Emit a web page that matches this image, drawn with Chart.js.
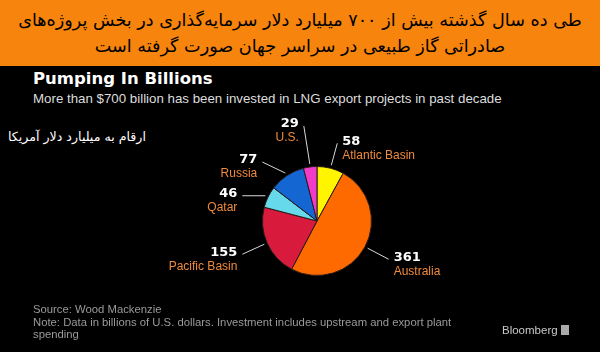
<!DOCTYPE html>
<html lang="fa">
<head>
<meta charset="UTF-8" />
<title>Pumping In Billions</title>
<script src="https://cdn.jsdelivr.net/npm/chart.js@4.4.1/dist/chart.umd.min.js"></script>
<style>
  html, body { margin: 0; padding: 0; background: #000; }
  #page { position: relative; width: 600px; height: 352px; overflow: hidden; background: #000; }
  #banner {
    position: absolute; left: 0; top: 0; width: 600px; height: 66px;
    background: #f6840d; color: #000; text-align: center;
    font-family: "DejaVu Sans", sans-serif; font-size: 17.6px; line-height: 26px;
    direction: rtl; padding-top: 7px; box-sizing: border-box; white-space: nowrap;
  }
  #title { position: absolute; left: 33px; top: 69px; color: #fff; font: bold 16.5px "DejaVu Sans", sans-serif; }
  #subtitle { position: absolute; left: 33px; top: 91px; color: #ddd; font: 13.3px "Liberation Sans", sans-serif; }
  #unit { position: absolute; left: 8px; top: 129px; color: #fff; font: 12.6px "DejaVu Sans", sans-serif; direction: rtl; }
  #foot { position: absolute; left: 33px; top: 303px; color: #9a9a9a; font: 11.3px "Liberation Sans", sans-serif; line-height: 12.5px; width: 440px; }
  #brand { position: absolute; left: 502px; top: 324px; color: #c8c8c8; font: 11.5px "Liberation Sans", sans-serif; }
  #brand i { display: inline-block; width: 8px; height: 10px; background: #aaa; margin-left: 3px; vertical-align: -1px; }
  canvas { position: absolute; left: 0; top: 0; }
</style>
</head>
<body>
<div id="page">
  <div id="banner">طی ده سال گذشته بیش از ۷۰۰ میلیارد دلار سرمایه‌گذاری در بخش پروژه‌های<br>صادراتی گاز طبیعی در سراسر جهان صورت گرفته است</div>
  <div id="title">Pumping In Billions</div>
  <div id="subtitle">More than $700 billion has been invested in LNG export projects in past decade</div>
  <div id="unit">ارقام به میلیارد دلار آمریکا</div>
  <canvas id="chart" width="600" height="352"></canvas>
  <div id="foot">Source: Wood Mackenzie<br>Note: Data in billions of U.S. dollars. Investment includes upstream and export plant spending</div>
  <div id="brand">Bloomberg<i></i></div>
</div>

<script>
  const regions = ['Atlantic Basin', 'Australia', 'Pacific Basin', 'Qatar', 'Russia', 'U.S.'];
  const investment = [58, 361, 155, 46, 77, 29];
  const sliceColors = ['#fff500', '#ff6a00', '#d81b3c', '#66d9ea', '#1466d2', '#f03cc8'];
  // leader line direction for each label, relative to the slice edge
  const leaderOffsets = [[6, -22], [21, 11], [-22, 10], [-23, 0], [-23, -11], [-6, -38]];

  const pieLabels = {
    id: 'pieLabels',
    afterDraw(chart) {
      const ctx = chart.ctx;
      const meta = chart.getDatasetMeta(0);
      ctx.save();
      meta.data.forEach((arc, i) => {
        const mid = (arc.startAngle + arc.endAngle) / 2;
        const r = arc.outerRadius + 3;
        const x1 = arc.x + Math.cos(mid) * r, y1 = arc.y + Math.sin(mid) * r;
        const [dx, dy] = leaderOffsets[i];
        const x2 = x1 + dx, y2 = y1 + dy;
        ctx.strokeStyle = '#d8d8d8';
        ctx.lineWidth = 1;
        ctx.beginPath();
        ctx.moveTo(x1, y1);
        ctx.lineTo(x2, y2);
        ctx.stroke();

        const right = dx > 0;
        const tx = right ? x2 + 5 : x2 - 5;
        ctx.textAlign = right ? 'left' : 'right';
        ctx.textBaseline = 'middle';
        ctx.fillStyle = '#ffffff';
        ctx.font = 'bold 13px "DejaVu Sans", sans-serif';
        ctx.fillText(String(investment[i]), tx, y2 - 2);
        ctx.fillStyle = '#f08a3c';
        ctx.font = '12px "Liberation Sans", sans-serif';
        ctx.fillText(regions[i], tx, y2 + 12);
      });
      ctx.restore();
    }
  };

  new Chart(document.getElementById('chart'), {
    type: 'pie',
    data: {
      labels: regions,
      datasets: [{
        data: investment,
        backgroundColor: sliceColors,
        borderColor: '#2a1a1a',
        borderWidth: 1
      }]
    },
    options: {
      responsive: false,
      animation: false,
      layout: { padding: { left: 262, right: 228, top: 166, bottom: 76 } },
      plugins: { legend: { display: false }, tooltip: { enabled: false } }
    },
    plugins: [pieLabels]
  });
</script>
</body>
</html>
